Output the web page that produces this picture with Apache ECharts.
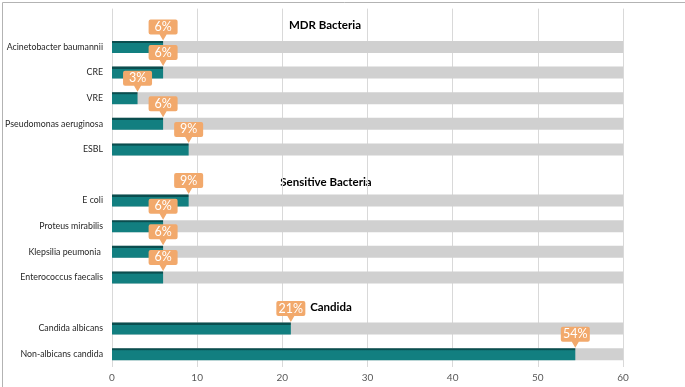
<!DOCTYPE html>
<html>
<head>
<meta charset="utf-8">
<script src="https://cdn.jsdelivr.net/npm/echarts@6/dist/echarts.min.js"></script>
<style>html,body{margin:0;padding:0;background:#fff}#c{width:685px;height:387px}</style>
</head>
<body>
<div id="c"></div>
<script>
// Group titles
var groupTitles = ['MDR Bacteria', 'Sensitive Bacteria', 'Candida'];
// Categories per group (top to bottom)
var mdrCats = ['Acinetobacter baumannii', 'CRE', 'VRE', 'Pseudomonas aeruginosa', 'ESBL'];
var sensCats = ['E coli', 'Proteus mirabilis', 'Klepsilia peumonia ', 'Enterococcus faecalis'];
var candCats = ['Candida albicans', 'Non-albicans candida'];
// Values (%)
var mdrVals = [6, 6, 3, 6, 9];
var sensVals = [9, 6, 6, 6];
var candVals = [21, 54.4];
// Axis
var axisMax = 60;
var axisTicks = [0, 10, 20, 30, 40, 50, 60];

// Build category list with a blank slot above each group (where the group title sits)
var categories = [], values = [], bg = [];
var groups = [[mdrCats, mdrVals], [sensCats, sensVals], [candCats, candVals]];
groups.forEach(function (g, gi) {
  categories.push(new Array(gi + 2).join('\u2002'));
  values.push('-'); bg.push('-');
  g[0].forEach(function (c, i) {
    categories.push(c); values.push(g[1][i]); bg.push(axisMax);
  });
});
var callouts = [];
values.forEach(function (v, i) { if (v !== '-') callouts.push([v, i]); });

var chart = echarts.init(document.getElementById('c'));
var FONT = 'Lato';
chart.setOption({
  animation: false,
  textStyle: { fontFamily: FONT },
  grid: { left: 112, right: 62, top: 8.6, bottom: 20, containLabel: false, outerBoundsMode: 'none' },
  xAxis: {
    type: 'value', min: 0, max: axisMax, interval: axisTicks[1] - axisTicks[0],
    axisLine: { show: false }, axisTick: { show: false },
    splitLine: { show: true, lineStyle: { color: '#d9d9d9', width: 1 } },
    axisLabel: { color: '#595959', fontSize: 10, fontFamily: FONT, margin: 6 }
  },
  yAxis: {
    type: 'category', inverse: true, data: categories,
    axisLine: { show: false }, axisTick: { show: false },
    axisLabel: { color: '#262626', fontSize: 8.8, fontFamily: FONT, margin: 9 }
  },
  series: [
    {
      type: 'bar', data: bg, barWidth: 12, barGap: '-100%', silent: true,
      itemStyle: { color: '#d0d0d0' }, z: 1
    },
    {
      type: 'bar', data: values, barWidth: 12, z: 2,
      itemStyle: {
        color: new echarts.graphic.LinearGradient(0, 0, 0, 1, [
          { offset: 0, color: '#0a4e4f' },
          { offset: 0.16, color: '#0a4e4f' },
          { offset: 0.2, color: '#127f80' },
          { offset: 1, color: '#127f80' }
        ])
      }
    },
    {
      type: 'scatter', data: callouts, z: 5,
      symbol: 'path://M2,0 H27 Q29,0 29,2 V13 Q29,15 27,15 H18 L14.5,21 L11,15 H2 Q0,15 0,13 V2 Q0,0 2,0 Z',
      symbolSize: [29, 21], symbolOffset: [0, -17],
      itemStyle: { color: '#f2a96c', opacity: 1 },
      label: {
        show: true, position: 'inside', offset: [0, -3],
        color: '#ffffff', fontSize: 12.5, fontFamily: FONT,
        formatter: function (p) { return Math.round(p.value[0]) + '%'; }
      }
    }
  ],
  graphic: [
    { type: 'rect', left: 0, top: 0, shape: { x: 0.5, y: 0.5, width: 684, height: 386 },
      style: { fill: 'none', stroke: '#b3b3b3', lineWidth: 1 }, silent: true, z: 10 },
    { type: 'text', x: 325, y: 25.5, style: { text: groupTitles[0], fill: '#000', font: 'bold 11.5px ' + FONT, textAlign: 'center', textVerticalAlign: 'middle' } },
    { type: 'text', x: 326, y: 182, style: { text: groupTitles[1], fill: '#000', font: 'bold 11.5px ' + FONT, textAlign: 'center', textVerticalAlign: 'middle' } },
    { type: 'text', x: 331, y: 307, style: { text: groupTitles[2], fill: '#000', font: 'bold 11.5px ' + FONT, textAlign: 'center', textVerticalAlign: 'middle' } }
  ]
});
</script>
</body>
</html>
